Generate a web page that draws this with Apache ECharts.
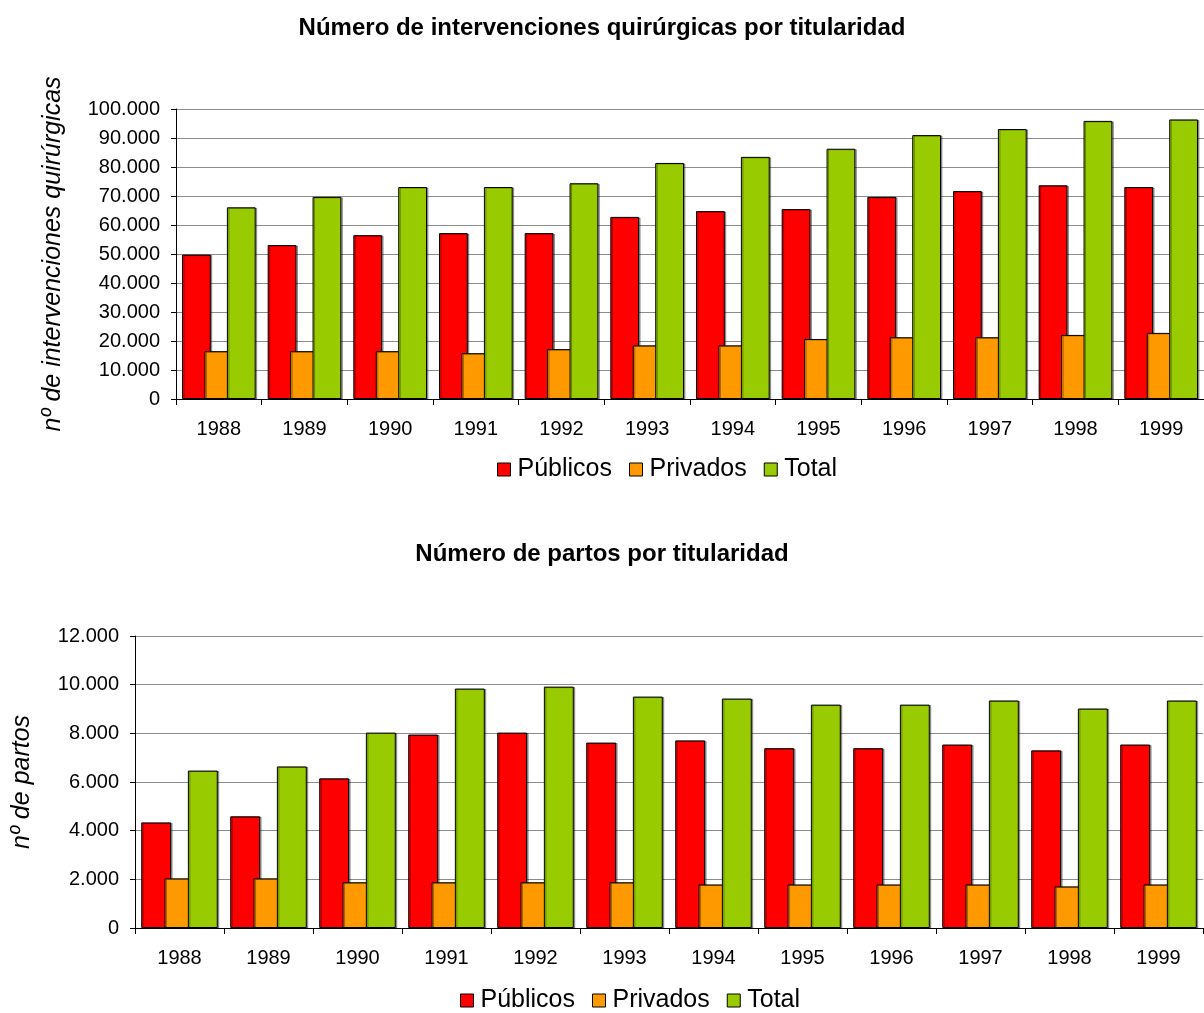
<!DOCTYPE html>
<html>
<head>
<meta charset="utf-8">
<script src="https://cdn.jsdelivr.net/npm/echarts@6/dist/echarts.min.js"></script>
<style>
html,body{margin:0;padding:0;background:#fff;}
#chart{width:1204px;height:1013px;}
</style>
</head>
<body>
<div id="chart"></div>
<script>
const categories = ['1988','1989','1990','1991','1992','1993','1994','1995','1996','1997','1998','1999'];
const seriesNames = ['Públicos','Privados','Total'];

const intPublicos = [49800, 53100, 56500, 57200, 57200, 62800, 64800, 65500, 69700, 71700, 73700, 73100];
const intPrivados = [16500, 16500, 16500, 15800, 17200, 18500, 18500, 20700, 21300, 21300, 22100, 22800];
const intTotal    = [66100, 69700, 73100, 73100, 74400, 81400, 83500, 86300, 91000, 93100, 95900, 96400];

const partPublicos = [4340, 4590, 6150, 7950, 8030, 7620, 7710, 7390, 7390, 7540, 7300, 7540];
const partPrivados = [2040, 2040, 1880, 1880, 1880, 1880, 1790, 1790, 1790, 1790, 1710, 1790];
const partTotal    = [6470, 6640, 8030, 9840, 9920, 9510, 9430, 9180, 9180, 9350, 9020, 9350];

const titleTop = 'Número de intervenciones quirúrgicas por titularidad';
const titleBottom = 'Número de partos por titularidad';
const yNameTop = 'nº de intervenciones quirúrgicas';
const yNameBottom = 'nº de partos';

const colors = ['#FF0000', '#FF9900', '#99CC00'];
const FONT = '"Liberation Sans", Arial, sans-serif';

function fmt(v){ return String(v).replace(/\B(?=(\d{3})+(?!\d))/g, '.'); }

function xAxisCfg(gridIndex){
  return {
    type:'category', gridIndex, data: categories,
    axisLine:{show:true, lineStyle:{color:'#000', width:1}},
    axisTick:{show:true, length:6, lineStyle:{color:'#000'}},
    axisLabel:{color:'#000', fontSize:20, fontFamily:FONT, margin:20},
    splitLine:{show:false}
  };
}
function yAxisCfg(gridIndex, max, interval, name, gap){
  return {
    type:'value', gridIndex, min:0, max, interval,
    name, nameLocation:'middle', nameGap:gap, nameRotate:90,
    nameTextStyle:{fontSize:25, fontStyle:'italic', fontFamily:FONT, color:'#000'},
    axisLine:{show:true, lineStyle:{color:'#000', width:1}},
    axisTick:{show:true, length:5, lineStyle:{color:'#000'}},
    axisLabel:{color:'#000', fontSize:20, fontFamily:FONT, margin:16, formatter: fmt},
    splitLine:{show:true, lineStyle:{color:'#8c8c8c', width:1}}
  };
}
function barSeries(name, data, idx, axisIdx){
  return {
    type:'bar', name, data, xAxisIndex:axisIdx, yAxisIndex:axisIdx,
    barWidth:'33.6%', barGap:'-22%',
    itemStyle:{color:colors[idx], borderColor:'#000', borderWidth:1,
      shadowColor:'rgba(0,0,0,0.35)', shadowOffsetX:1.5, shadowOffsetY:0.5, shadowBlur:0},
    emphasis:{disabled:true}
  };
}
function legendCfg(left, top){
  return {
    left, top, padding:0, orient:'horizontal', selectedMode:false,
    data: seriesNames, icon:'rect', itemWidth:13, itemHeight:13, itemGap:17,
    textStyle:{fontSize:25, fontFamily:FONT, color:'#000', padding:[0,0,0,2]},
    itemStyle:{borderColor:'#000', borderWidth:1, shadowBlur:0, shadowOffsetX:0, shadowOffsetY:0}
  };
}

const chart = echarts.init(document.getElementById('chart'), null, {renderer:'canvas'});
chart.setOption({
  animation:false,
  backgroundColor:'#fff',
  title:[
    {text:titleTop, left:'center', top:11, textStyle:{fontSize:24, fontWeight:'bold', fontFamily:FONT, color:'#000'}},
    {text:titleBottom, left:'center', top:537, textStyle:{fontSize:24, fontWeight:'bold', fontFamily:FONT, color:'#000'}}
  ],
  legend:[ legendCfg(497, 457), legendCfg(460, 988) ],
  grid:[
    {left:176, right:-9, top:109, height:290, containLabel:false},
    {left:135, right:1, top:636, height:292, containLabel:false}
  ],
  xAxis:[ xAxisCfg(0), xAxisCfg(1) ],
  yAxis:[ yAxisCfg(0, 100000, 10000, yNameTop, 110), yAxisCfg(1, 12000, 2000, yNameBottom, 100) ],
  series:[
    barSeries(seriesNames[0], intPublicos, 0, 0),
    barSeries(seriesNames[1], intPrivados, 1, 0),
    barSeries(seriesNames[2], intTotal, 2, 0),
    barSeries(seriesNames[0], partPublicos, 0, 1),
    barSeries(seriesNames[1], partPrivados, 1, 1),
    barSeries(seriesNames[2], partTotal, 2, 1)
  ]
});
</script>
</body>
</html>
